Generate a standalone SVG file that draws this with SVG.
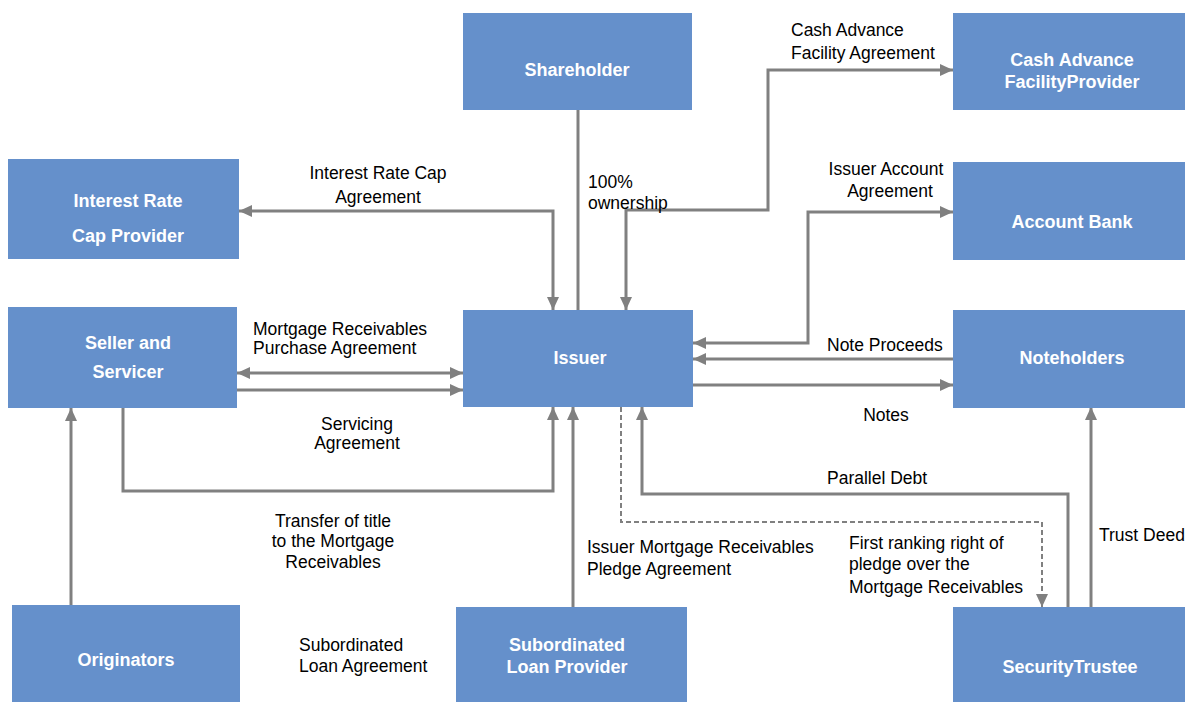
<svg xmlns="http://www.w3.org/2000/svg" width="1195" height="702" viewBox="0 0 1195 702">
<style>
.box{fill:#6590cb}
.nt{fill:#fff;font-family:"Liberation Sans",Arial,sans-serif;font-weight:bold;font-size:18px;text-anchor:middle}
.lb{fill:#000;font-family:"Liberation Sans",Arial,sans-serif;font-size:17.5px}
.c{text-anchor:middle}
.ln{fill:none;stroke:#808080;stroke-width:3}
.dl{fill:none;stroke:#808080;stroke-width:2;stroke-dasharray:5,3}
</style>
<defs>
<marker id="ah" markerUnits="userSpaceOnUse" markerWidth="14" markerHeight="12" refX="13" refY="6" orient="auto-start-reverse">
<path d="M0,0 L13,6 L0,12 z" fill="#808080"/>
</marker>
</defs>
<rect width="1195" height="702" fill="#fff"/>
<g id="connectors">
<path class="ln" d="M578,110 V310"/>
<path class="ln" d="M239,211 H553 V310" marker-start="url(#ah)" marker-end="url(#ah)"/>
<path class="ln" d="M626,310 V210 H768 V70 H953" marker-start="url(#ah)" marker-end="url(#ah)"/>
<path class="ln" d="M953,212 H808 V343 H693" marker-start="url(#ah)" marker-end="url(#ah)"/>
<path class="ln" d="M953,359 H693" marker-end="url(#ah)"/>
<path class="ln" d="M693,385 H953" marker-end="url(#ah)"/>
<path class="ln" d="M237,373 H463" marker-start="url(#ah)" marker-end="url(#ah)"/>
<path class="ln" d="M237,390 H463" marker-end="url(#ah)"/>
<path class="ln" d="M123,408 V491 H553 V407" marker-end="url(#ah)"/>
<path class="ln" d="M71,605 V408" marker-end="url(#ah)"/>
<path class="ln" d="M573,607 V407" marker-end="url(#ah)"/>
<path class="ln" d="M1068,607 V494 H642 V407" marker-end="url(#ah)"/>
<path class="dl" d="M621,407 V522 H1042 V607" marker-end="url(#ah)"/>
<path class="ln" d="M1091,607 V407" marker-end="url(#ah)"/>
</g>
<g id="shareholder"><rect class="box" x="463" y="13" width="229" height="97"/><text class="nt" x="577" y="76">Shareholder</text></g>
<g id="cash-advance-provider"><rect class="box" x="953" y="13" width="232" height="97"/><text class="nt" x="1072" y="66">Cash Advance</text><text class="nt" x="1072" y="88">FacilityProvider</text></g>
<g id="interest-rate-cap-provider"><rect class="box" x="8" y="159" width="231" height="100"/><text class="nt" x="128" y="207">Interest Rate</text><text class="nt" x="128" y="242">Cap Provider</text></g>
<g id="account-bank"><rect class="box" x="953" y="162" width="232" height="98"/><text class="nt" x="1072" y="228">Account Bank</text></g>
<g id="seller-servicer"><rect class="box" x="8" y="307" width="229" height="101"/><text class="nt" x="128" y="349">Seller and</text><text class="nt" x="128" y="378">Servicer</text></g>
<g id="issuer"><rect class="box" x="463" y="310" width="230" height="97"/><text class="nt" x="580" y="364">Issuer</text></g>
<g id="noteholders"><rect class="box" x="953" y="310" width="232" height="98"/><text class="nt" x="1072" y="364">Noteholders</text></g>
<g id="originators"><rect class="box" x="12" y="605" width="228" height="97"/><text class="nt" x="126" y="666">Originators</text></g>
<g id="subordinated-loan-provider"><rect class="box" x="456" y="607" width="231" height="95"/><text class="nt" x="567" y="651">Subordinated</text><text class="nt" x="567" y="673">Loan Provider</text></g>
<g id="security-trustee"><rect class="box" x="953" y="607" width="232" height="95"/><text class="nt" x="1070" y="673">SecurityTrustee</text></g>
<g id="labels">
<text class="lb" x="791" y="36">Cash Advance</text>
<text class="lb" x="791" y="59">Facility Agreement</text>
<text class="lb c" x="378" y="179">Interest Rate Cap</text>
<text class="lb c" x="378" y="203">Agreement</text>
<text class="lb" x="588" y="188">100%</text>
<text class="lb" x="588" y="209">ownership</text>
<text class="lb c" x="886" y="175">Issuer Account</text>
<text class="lb c" x="890" y="197">Agreement</text>
<text class="lb" x="253" y="335">Mortgage Receivables</text>
<text class="lb" x="253" y="354">Purchase Agreement</text>
<text class="lb c" x="357" y="430">Servicing</text>
<text class="lb c" x="357" y="449">Agreement</text>
<text class="lb" x="827" y="351">Note Proceeds</text>
<text class="lb c" x="886" y="421">Notes</text>
<text class="lb" x="827" y="484">Parallel Debt</text>
<text class="lb c" x="333" y="527">Transfer of title</text>
<text class="lb c" x="333" y="547">to the Mortgage</text>
<text class="lb c" x="333" y="568">Receivables</text>
<text class="lb" x="587" y="553">Issuer Mortgage Receivables</text>
<text class="lb" x="587" y="575">Pledge Agreement</text>
<text class="lb" x="849" y="549">First ranking right of</text>
<text class="lb" x="849" y="570">pledge over the</text>
<text class="lb" x="849" y="593">Mortgage Receivables</text>
<text class="lb" x="1099" y="541">Trust Deed</text>
<text class="lb" x="299" y="651">Subordinated</text>
<text class="lb" x="299" y="672">Loan Agreement</text>
</g>
</svg>
